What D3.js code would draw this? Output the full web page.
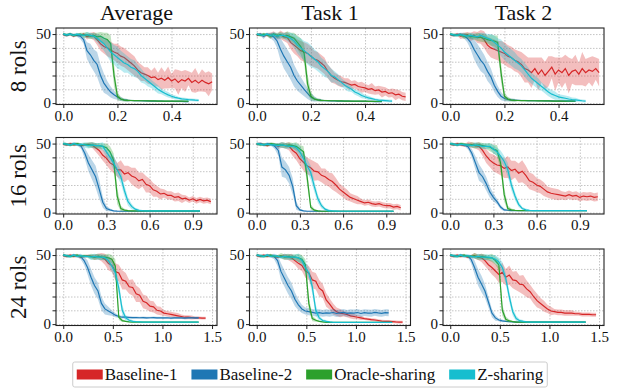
<!DOCTYPE html>
<html>
<head>
<meta charset="utf-8">
<script src="https://cdn.jsdelivr.net/npm/d3@7"></script>
<style>
  body { margin: 0; background: #fff; }
  text { font-family: "Liberation Serif", "Times New Roman", serif; fill: #111; }
</style>
</head>
<body>
<svg id="chart" width="618" height="389"></svg>
<script>
const columns = ["Average", "Task 1", "Task 2"];
const rowLabels = ["8 rols", "16 rols", "24 rols"];
const methods = ["Baseline-1", "Baseline-2", "Oracle-sharing", "Z-sharing"];
const xTicks = [[0, 0.2, 0.4], [0, 0.3, 0.6, 0.9], [0, 0.5, 1.0, 1.5]];
const yTicks = [0, 10, 20, 30, 40, 50];
const xStep = [0.0125, 0.025, 0.035];   // spacing of the recorded points in each row

// each panel: [Baseline-1, Baseline-2, Oracle-sharing, Z-sharing]
// ---- 8 rols ----
const rols8Average = [
  [49.5,49,50,48.5,49.5,49,50,48,49,48.5, 46,43,41,40,38.5,37,36,34,33,31, 29,27,24,22,21,20,18.5,19,17,18, 16.5,18.5,16,17.5,15,17,16,18,15,16.5, 14.5,16.5,15,14,15.5],
  [50,49,50,49.5,49,48.5,46,38,35,31, 28,20,14.5,11,8,6,4.5,3,2.3,2, 1.9,1.8,1.8,1.7,1.6,1.6,1.5,1.5,1.4,1.4, 1.3,1.3,1.3,1.2,1.2,1.2,1.1,1.1],
  [50,49.5,50,49,49.5,50,49,49.5,48.5,49, 48,48.5,47,46,43,20,5,3,2.2,2, 1.9,1.8,1.8,1.7,1.7,1.6,1.6,1.6,1.5,1.5, 1.5,1.5,1.4,1.4,1.4,1.4,1.4,1.4],
  [50,49.5,50,49,50,49.5,49,49.5,49,48.5, 47,45,43,40,37,35,33,31,29,28, 26,25,23,20,18,16,14,12,10,8.5, 7.2,6,5,4.2,3.6,3.1,2.8,2.5,2.3,2.1,2]
];
const rols8AverageBand = [
  [1,1,1,1,1,1,1,2,2,3, 4,5,5,6,6,6,7,7,7,7, 7,7,6,6,5,6,5,7,5,8, 6,8,5,7,9,6,8,5,7,9, 6,8,7,9,6],
  [1,1,1,1,1,2,3,6,8,8, 9,8,7,5,4,3,2,1.5,1,1, .5,.5,.5,.5,.5,.5,.5,.5,.5,.5, .5,.5,.5,.5,.5,.5,.5,.5],
  [1,1,1,1,1,1,2,2,2,2, 3,3,4,5,6,8,3,1.5,1,1, .5,.5,.5,.5,.5,.5,.5,.5,.5,.5, .5,.5,.5,.5,.5,.5,.5,.5],
  [1,1,1,1,1,1,1,2,2,2, 3,4,5,6,7,7,8,7,7,6, 6,6,5,5,4,4,3,3,3,2, 2,2,1.5,1.5,1,1,1,1,1,1,1]
];
const rols8Task1 = [
  [49,50,48.5,49.5,49,50,48,49.5,48,47.5, 44,42,40,38,37,36,34,32,31,29, 27,23,20,18,16.5,15.5,15,14,13,13.5, 12,11.5,11,10,10.5,9,9.5,8,8.5,7, 7.5,6,6.5,5,4.5],
  [49.5,50,48.5,50,49,48,45,39,34,30, 26,20,16,13,10,7,4.5,3,2.3,2, 1.8,1.7,1.6,1.6,1.5,1.5,1.4,1.4,1.3,1.3, 1.3,1.2,1.2,1.2,1.2,1.1,1.1,1.1],
  [50,49,50,49.5,48.5,50,49,49.5,48.5,49, 48,47,44,41,36,14,5,3,2.3,2, 1.9,1.8,1.7,1.7,1.6,1.6,1.5,1.5,1.5,1.4, 1.4,1.4,1.4,1.3,1.3,1.3,1.3,1.3],
  [50,49.5,49,50,49,49.5,48.5,49,49,48, 47,45,42,40,38,36,34,32,30,27, 25,23,20,19,17,15,13,11.5,10,8, 7,5.5,4.6,3.8,3.2,2.6,2.2,2,1.8,1.6,1.5]
];
const rols8Task1Band = [
  [1,1,1,1,2,2,2,3,3,4, 5,6,6,7,7,7,7,6,6,6, 6,5,5,4,4,4,3,4,3,3, 3,4,3,3,4,3,3,4,3,3, 3,4,3,3,3],
  [1,1,2,1,2,3,5,8,9,9, 9,8,7,6,5,4,3,2,1,1, .5,.5,.5,.5,.5,.5,.5,.5,.5,.5, .5,.5,.5,.5,.5,.5,.5,.5],
  [1,1,1,1,2,1,2,2,2,3, 3,4,5,6,7,7,3,1.5,1,1, .5,.5,.5,.5,.5,.5,.5,.5,.5,.5, .5,.5,.5,.5,.5,.5,.5,.5],
  [1,1,1,1,1,2,2,2,2,3, 4,5,6,7,7,8,8,7,7,6, 6,5,5,4,4,3,3,3,2,2, 2,2,1.5,1.5,1,1,1,1,1,1,1]
];
const rols8Task2 = [
  [49.5,49,50,48.5,49,49.5,48,49,47.5,48, 46,42,40,39,38,37,36,34,33,31, 30,28,25,24,22,25,21,24,20,23, 26,21,24,22,25,20,23,24,21,25, 22,24,23,25,22],
  [50,49,49.5,50,49,47,44,39,35,31, 28,23,19,13,8.5,5,3.3,2.6,2.3,2.1, 2,1.9,1.9,1.8,1.8,1.7,1.7,1.7,1.6,1.6, 1.6,1.5,1.5,1.5,1.5,1.5,1.4,1.4],
  [50,49.5,49,49.5,48.5,49,48.5,48,48,47.5, 47,46,45.5,45,44,22,5,3,2.2,2, 1.9,1.8,1.8,1.7,1.7,1.7,1.6,1.6,1.6,1.6, 1.5,1.5,1.5,1.5,1.5,1.5,1.5,1.5],
  [50,49.5,49,49.5,49,48.5,49,48.5,48,49, 48,47,46,44,42,40,37,35,33,31, 29,27,24,21,18,16,14,12,10,8, 6.5,5.5,4.5,4,3.5,3,2.6,2.3,2,1.7,1.5]
];
const rols8Task2Band = [
  [1,1,1,2,2,2,3,3,4,5, 6,6,7,7,7,8,8,8,8,8, 8,9,10,9,11,8,12,9,10,11, 8,12,9,11,10,13,9,11,8,12, 10,9,11,8,10],
  [1,1,1,1,2,3,5,7,8,8, 7,7,6,5,4,3,2,1.5,1,1, .5,.5,.5,.5,.5,.5,.5,.5,.5,.5, .5,.5,.5,.5,.5,.5,.5,.5],
  [1,1,1,1,2,2,2,2,3,3, 3,3,4,4,5,7,3,1.5,1,1, .5,.5,.5,.5,.5,.5,.5,.5,.5,.5, .5,.5,.5,.5,.5,.5,.5,.5],
  [1,1,1,1,1,1,2,2,2,2, 3,3,4,5,5,6,6,6,6,6, 5,5,5,5,4,4,4,3,3,3, 3,3,2,2,2,2,1.5,1.5,1,1,1]
];
// ---- 16 rols ----
const rols16Average = [
  [49.5,49,50,49,49.5,48.5,49,49.5,49,47, 45,41.5,39.5,36,34.5,31,31,28,29,26.5, 25.5,23,24,20.5,19.5,16.5,15.5,13.5,14,12.5, 12.5,11,11.5,10,10.5,9,10,8.5,9.5,8.5,9,8],
  [50,49.5,49,50,49.5,48,43,36,31,26, 17,7.5,3,2,1.3,1.1,1,1,1,1, 1,1,1,1,1,1,1,1,1,1, 1,1,1,1,1,1,1,1,1],
  [50,49.5,49,49.5,50,49,49.5,49,49,48.5, 48.5,48,47,44,38,12,3,1.8,1.4,1.2, 1.2,1.2,1.2,1.2,1.2,1.2,1.2,1.2,1.2,1.2, 1.2,1.2,1.2,1.2,1.2,1.2,1.2,1.2,1.2],
  [50,49.5,49,50,49,49.5,49,48.5,49,48.5, 48.5,48,44,40,36,31,26,16,8,4.5, 2.5,1.7,1.4,1.2,1.2,1.2,1.2,1.2,1.2,1.2, 1.2,1.2,1.2,1.2,1.2,1.2,1.2,1.2,1.2]
];
const rols16AverageBand = [
  [1,1,1,1,1,1,1,1,2,3, 4,4,5,5,6,5,7,6,5,6, 7,6,5,6,5,5,4,4,3,3, 3,3,3,3,2,2,2,2,2,2,2,2],
  [1,1,1,1,1,2,4,6,7,8, 7,4,2,1,.5,.3,.3,.3,.3,.3, .3,.3,.3,.3,.3,.3,.3,.3,.3,.3, .3,.3,.3,.3,.3,.3,.3,.3,.3],
  [1,1,1,1,1,1,1,2,2,2, 2,2,3,4,5,6,2,1,.5,.5, .3,.3,.3,.3,.3,.3,.3,.3,.3,.3, .3,.3,.3,.3,.3,.3,.3,.3,.3],
  [1,1,1,1,1,1,2,2,2,2, 2,3,4,4,5,5,5,4,3,2, 1,1,.5,.3,.3,.3,.3,.3,.3,.3, .3,.3,.3,.3,.3,.3,.3,.3,.3]
];
const rols16Task1 = [
  [49.5,50,49,48.5,49.5,49,48,49,48.5,48, 45,43,39,36.5,34,32.5,30,29.5,27,26, 24,22.5,20,17,15,13,11,10,9,8, 7,7.5,6.5,6,6.5,5.5,5,5,4,4.5,3.5],
  [49.5,50,49,50,49.5,48,45,33,31,27, 19,5,2,1.3,1,1,1,1,1,1, 1,1,1,1,1,1,1,1,1,1, 1,1,1,1,1,1,1,1,1],
  [50,49,49.5,49,50,49.5,49,49,48.5,49, 48.5,48,46,44,26,4,1.8,1.3,1,1, 1,1,1,1,1,1,1,1,1,1, 1,1,1,1,1,1,1,1,1],
  [50,49.5,49,49.5,49,49,48.5,49,48.5,48, 48,47,44,39,34,29,19,10,5,2.5, 1.5,1.2,1.1,1,1,1,1,1,1,1, 1,1,1,1,1,1,1,1,1]
];
const rols16Task1Band = [
  [1,1,1,1,1,1,2,2,2,3, 4,5,5,6,6,6,7,6,5,6, 5,6,5,4,4,4,3,3,3,2, 2,2,2,2,2,2,2,2,2,2,2],
  [1,1,1,1,1,2,4,7,6,6, 6,3,1,.5,.3,.3,.3,.3,.3,.3, .3,.3,.3,.3,.3,.3,.3,.3,.3,.3, .3,.3,.3,.3,.3,.3,.3,.3,.3],
  [1,1,1,1,1,1,1,2,2,2, 2,3,3,4,6,2,1,.5,.3,.3, .3,.3,.3,.3,.3,.3,.3,.3,.3,.3, .3,.3,.3,.3,.3,.3,.3,.3,.3],
  [1,1,1,1,1,1,2,2,2,2, 2,3,4,4,5,5,4,3,2,1, 1,.5,.3,.3,.3,.3,.3,.3,.3,.3, .3,.3,.3,.3,.3,.3,.3,.3,.3]
];
const rols16Task2 = [
  [49.5,49,50,49,48.5,49.5,49,48.5,48,45, 41,38,36,34.5,34,32,33,30.5,31.5,28.5, 30,27,23,22,20,19,17,15,14,13.5, 13,12.5,12,13,12,12.5,11,12,11.5,12,11,11.5],
  [50,49.5,49,49.5,49,47.5,43,36,29,26, 21,15,11,8,4,2,1.7,1.5,1.5,1.5, 1.5,1.5,1.5,1.5,1.5,1.5,1.5,1.5,1.5,1.5, 1.5,1.5,1.5,1.5,1.5,1.5,1.5,1.5,1.5],
  [50,49.5,49,50,49.5,49,49,48.5,49,48.5, 48,47.5,46,45,36,13,3,2,1.6,1.5, 1.5,1.5,1.5,1.5,1.5,1.5,1.5,1.5,1.5,1.5, 1.5,1.5,1.5,1.5,1.5,1.5,1.5,1.5,1.5],
  [50,49.5,49,49.5,49,49,48.5,49,48.5,48, 48,48,46,44,41,37,31,20,12,6, 3,2,1.6,1.5,1.5,1.5,1.5,1.5,1.5,1.5, 1.5,1.5,1.5,1.5,1.5,1.5,1.5,1.5,1.5]
];
const rols16Task2Band = [
  [1,1,1,1,1,2,2,2,3,4, 5,5,6,6,7,7,8,7,6,7, 8,7,6,6,5,5,5,4,4,4, 4,3,3,3,3,3,3,3,3,3,3,3],
  [1,1,1,1,1,2,3,5,6,5, 5,4,3,2,1.5,1,.5,.3,.3,.3, .3,.3,.3,.3,.3,.3,.3,.3,.3,.3, .3,.3,.3,.3,.3,.3,.3,.3,.3],
  [1,1,1,1,1,1,2,2,2,2, 2,3,3,4,5,5,2,1,.5,.3, .3,.3,.3,.3,.3,.3,.3,.3,.3,.3, .3,.3,.3,.3,.3,.3,.3,.3,.3],
  [1,1,1,1,1,1,1,2,2,2, 2,2,3,3,4,4,5,4,3,2, 1,1,.5,.3,.3,.3,.3,.3,.3,.3, .3,.3,.3,.3,.3,.3,.3,.3,.3]
];
// ---- 24 rols ----
const rols24Average = [
  [49.5,49,50,49,49.5,48.5,49,49.5,49,48.5,49, 48.5,47,44,42.5,38,37,32,31,27,26.5, 22,21,16.5,15.5,13,12.5,10,9.5,8,7.5, 7,6.5,6,5.5,5,5,4.8,4.5,4.5,4.3,4.3],
  [50,49.5,49,50,49.5,49,46,41,34,28, 24,15,11,9.5,8,6.5,5.5,5,5,4.8, 4.7,4.8,4.6,4.7,4.5,4.6,4.7,4.5,4.6,4.5, 4.6,4.4,4.5,4.6,4.5,4.4,4.5,4.6,4.5,4.5],
  [50,49.5,49,49.5,50,49,49.5,49,49,48.5, 49,48.5,48.5,48,47,42,5,2.5,2,1.6, 1.5,1.5,1.5,1.5,1.5,1.5,1.5,1.5,1.5,1.5, 1.5,1.5,1.5,1.5,1.5,1.5,1.5,1.5,1.5,1.5],
  [50,49.5,49,50,49,49.5,49,49,48.5,49, 48.5,48.5,48,46,42,37,26,10,4.5,2.8, 2,1.7,1.6,1.5,1.5,1.5,1.5,1.5,1.5,1.5, 1.5,1.5,1.5,1.5,1.5,1.5,1.5,1.5,1.5,1.5]
];
const rols24AverageBand = [
  [1,1,1,1,1,1,1,1,1,2,2, 3,4,5,5,6,6,7,6,5,6, 6,5,5,5,4,4,3,3,2,2, 2,2,2,1.5,1.5,1.5,1.5,1,1,1,1],
  [1,1,1,1,1,2,3,5,6,6, 6,5,4,3,2,1.5,1,1,1,1, .8,.8,.8,.8,.8,.8,.8,.8,.8,.8, .8,.8,.8,.8,.8,.8,.8,.8,.8,.8],
  [1,1,1,1,1,1,1,1,2,2, 2,2,2,3,3,5,2,1,.5,.5, .3,.3,.3,.3,.3,.3,.3,.3,.3,.3, .3,.3,.3,.3,.3,.3,.3,.3,.3,.3],
  [1,1,1,1,1,1,1,1,2,2, 2,2,2,3,4,4,5,4,2,1, 1,.5,.3,.3,.3,.3,.3,.3,.3,.3, .3,.3,.3,.3,.3,.3,.3,.3,.3,.3]
];
const rols24Task1 = [
  [49.5,49,50,49,49.5,49,48.5,49,49,48.5, 48,46,44,42.5,38.5,37,32,31,26,24, 17.5,14.5,11,9,8,7.5,7,6,5.5,5, 4.5,4,3.6,3.2,3,2.6,2.2,2,2,1.8, 1.6,1.5,1.5],
  [50,49.5,49,50,49.5,49,46,38,33,28, 24,18,14,11,9.5,9,8.5,8,8.3,7.8, 8.2,7.9,8.4,7.7,8.1,8.5,7.8,8.2,8,8.4, 7.7,8.3,8,7.9,8.5,8.1,7.8,8.3,8.2],
  [50,49.5,49,49.5,50,49,49,49.5,48.5,49, 48.5,48.5,48,47,43,15,4,2.8,2,1.6, 1.2,1.2,1.2,1.2,1.2,1.2,1.2,1.2,1.2,1.2, 1.2,1.2,1.2,1.2,1.2,1.2,1.2,1.2,1.2,1.2],
  [50,49.5,49,50,49,49.5,49,48.5,49,48.5, 48.5,48.5,48,46,41,37,27,10,4.5,2.6, 2,1.6,1.3,1.2,1.2,1.2,1.2,1.2,1.2,1.2, 1.2,1.2,1.2,1.2,1.2,1.2,1.2,1.2,1.2,1.2]
];
const rols24Task1Band = [
  [1,1,1,1,1,1,1,1,2,2, 3,3,4,4,5,5,6,6,6,5, 5,4,4,3,3,2,2,2,2,1.5, 1.5,1,1,1,1,1,1,1,1,1, 1,1,1],
  [1,1,1,1,1,2,4,6,6,6, 6,5,4,3,2.5,2.5,2.5,2.5,2.5,2.5, 2.5,2.5,2.5,2.5,2.5,2.5,2.5,2.5,2.5,2.5, 2.5,2.5,2.5,2.5,2.5,2.5,2.5,2.5,2.5],
  [1,1,1,1,1,1,1,2,2,2, 2,2,3,3,4,5,2,1,.5,.5, .3,.3,.3,.3,.3,.3,.3,.3,.3,.3, .3,.3,.3,.3,.3,.3,.3,.3,.3,.3],
  [1,1,1,1,1,1,1,1,2,2, 2,2,3,3,4,4,5,4,2,1, 1,.5,.3,.3,.3,.3,.3,.3,.3,.3, .3,.3,.3,.3,.3,.3,.3,.3,.3,.3]
];
const rols24Task2 = [
  [49.5,49,50,49,49.5,48.5,49,49.5,48.5,48, 46,43,41,38.5,36,37.5,34,35.5,32,31.5, 29,28.5,25.5,23.5,20,17,15,13,11,9.5, 9,8.5,8.5,8,8,8,7.5,7.5,7,7, 7,6.8,6.8],
  [50,49.5,49,50,49.5,49.5,47,41,34,29, 24,16,8,4.5,3,2.3,2,1.7,1.6,1.5, 1.5,1.5,1.5,1.5,1.5,1.5,1.5,1.5,1.5,1.5, 1.5,1.5,1.5,1.5,1.5,1.5,1.5,1.5,1.5,1.5],
  [50,49.5,49,49.5,50,49,49,49.5,48.5,49, 48.5,48,48,46,43,10,3.5,2.3,1.8,1.5, 1.5,1.5,1.5,1.5,1.5,1.5,1.5,1.5,1.5,1.5, 1.5,1.5,1.5,1.5,1.5,1.5,1.5,1.5,1.5,1.5],
  [50,49.5,49,50,49,49.5,49,48.5,49,48.5, 48.5,48.5,48,47,45,41,33,20,9,4, 2.5,2,1.6,1.5,1.5,1.5,1.5,1.5,1.5,1.5, 1.5,1.5,1.5,1.5,1.5,1.5,1.5,1.5,1.5,1.5]
];
const rols24Task2Band = [
  [1,1,1,1,1,1,1,2,2,3, 4,4,5,5,6,7,6,7,6,7, 6,7,6,5,5,5,4,4,3,3, 2,2,2,2,2,2,1.5,1.5,1.5,1.5, 1.5,1.5,1.5],
  [1,1,1,1,1,1,3,5,6,6, 5,4,3,2,1,1,.5,.3,.3,.3, .3,.3,.3,.3,.3,.3,.3,.3,.3,.3, .3,.3,.3,.3,.3,.3,.3,.3,.3,.3],
  [1,1,1,1,1,1,1,2,2,2, 2,2,3,3,4,4,2,1,.5,.5, .3,.3,.3,.3,.3,.3,.3,.3,.3,.3, .3,.3,.3,.3,.3,.3,.3,.3,.3,.3],
  [1,1,1,1,1,1,1,1,2,2, 2,2,2,3,3,4,4,4,3,2, 1,1,.5,.3,.3,.3,.3,.3,.3,.3, .3,.3,.3,.3,.3,.3,.3,.3,.3,.3]
];

const grid = [
  [[rols8Average, rols8AverageBand], [rols8Task1, rols8Task1Band], [rols8Task2, rols8Task2Band]],
  [[rols16Average, rols16AverageBand], [rols16Task1, rols16Task1Band], [rols16Task2, rols16Task2Band]],
  [[rols24Average, rols24AverageBand], [rols24Task1, rols24Task1Band], [rols24Task2, rols24Task2Band]]
];

const colors = ["#d62728", "#1f77b4", "#2ca02c", "#17becf"];
const serif = "'Liberation Serif', 'Times New Roman', serif";
const xDomains = [[-0.027, 0.568], [-0.05, 1.068], [-0.073, 1.55]];
const panelLeft = [56, 249.5, 443];
const panelTop = [28, 137.5, 249];
const pw = 161, ph = 76.5;

const svg = d3.select("#chart");

const y = d3.scaleLinear().domain([-1, 54.4]).range([ph, 0]);

grid.forEach((row, r) => {
  const x = d3.scaleLinear().domain(xDomains[r]).range([0, pw]);
  row.forEach((panel, c) => {
    const [means, bands] = panel;
    const g = svg.append("g")
      .attr("transform", "translate(" + panelLeft[c] + "," + panelTop[r] + ")");

    const clipId = "clip-" + r + "-" + c;
    g.append("clipPath").attr("id", clipId)
      .append("rect").attr("width", pw).attr("height", ph);

    // grid
    g.append("g")
      .call(d3.axisLeft(y).tickValues(yTicks).tickSize(-pw).tickFormat(""))
      .call(s => s.select(".domain").remove())
      .selectAll("line").attr("stroke", "#b5b5b5").attr("stroke-width", 0.8).attr("stroke-dasharray", "1.5,1.5");
    g.append("g")
      .attr("transform", "translate(0," + ph + ")")
      .call(d3.axisBottom(x).tickValues(xTicks[r]).tickSize(-ph).tickFormat(""))
      .call(s => s.select(".domain").remove())
      .selectAll("line").attr("stroke", "#b5b5b5").attr("stroke-width", 0.8).attr("stroke-dasharray", "1.5,1.5");

    const plot = g.append("g").attr("clip-path", "url(#" + clipId + ")");
    means.forEach((vals, m) => {
      const band = bands[m];
      const pts = vals.map((v, i) => ({ x: i * xStep[r], v: v, s: band[i] || 0 }));
      plot.append("path")
        .datum(pts)
        .attr("fill", colors[m])
        .attr("fill-opacity", 0.3)
        .attr("d", d3.area().x(d => x(d.x)).y0(d => y(d.v - d.s)).y1(d => y(d.v + d.s)));
      plot.append("path")
        .datum(pts)
        .attr("fill", "none")
        .attr("stroke", colors[m])
        .attr("stroke-width", 1.2)
        .attr("d", d3.line().x(d => x(d.x)).y(d => y(d.v)));
    });

    // axes
    const ya = g.append("g")
      .call(d3.axisLeft(y).tickValues(yTicks).tickSize(3.5).tickPadding(1.5)
        .tickFormat(d => (d === 0 || d === 50) ? d : ""));
    ya.select(".domain").remove();
    const xa = g.append("g")
      .attr("transform", "translate(0," + ph + ")")
      .call(d3.axisBottom(x).tickValues(xTicks[r]).tickSize(3.5).tickPadding(2).tickFormat(d3.format(".1f")));
    xa.select(".domain").remove();
    [ya, xa].forEach(a => {
      a.attr("font-family", serif).attr("font-size", 15);
      a.selectAll("line").attr("stroke", "#222");
      a.selectAll("text").attr("font-family", serif).attr("font-size", 15).attr("fill", "#111");
    });

    g.append("rect")
      .attr("width", pw).attr("height", ph)
      .attr("fill", "none").attr("stroke", "#222").attr("stroke-width", 1.1);

    if (r === 0) {
      g.append("text")
        .attr("x", pw / 2).attr("y", -8)
        .attr("text-anchor", "middle")
        .attr("font-family", serif)
        .attr("font-size", 22)
        .text(columns[c]);
    }
    if (c === 0) {
      g.append("text")
        .attr("transform", "translate(-30," + (ph / 2) + ") rotate(-90)")
        .attr("text-anchor", "middle")
        .attr("font-family", serif)
        .attr("font-size", 23)
        .text(rowLabels[r]);
    }
  });
});

// legend
const legend = svg.append("g");
const box = legend.append("rect")
  .attr("fill", "#fff").attr("stroke", "#ccc").attr("stroke-width", 1).attr("rx", 2);
let lx = 0;
methods.forEach((name, m) => {
  legend.append("rect")
    .attr("x", lx).attr("y", -5).attr("width", 26).attr("height", 10)
    .attr("fill", colors[m]);
  const t = legend.append("text")
    .attr("x", lx + 28).attr("y", 5.5)
    .attr("font-family", serif)
    .attr("font-size", 17)
    .text(name);
  lx += 28 + t.node().getComputedTextLength() + 14;
});
lx -= 14;
box.attr("x", -4).attr("y", -12.5).attr("width", lx + 8).attr("height", 25);
legend.attr("transform", "translate(" + (310 - lx / 2) + ",374.5)");
</script>
</body>
</html>
